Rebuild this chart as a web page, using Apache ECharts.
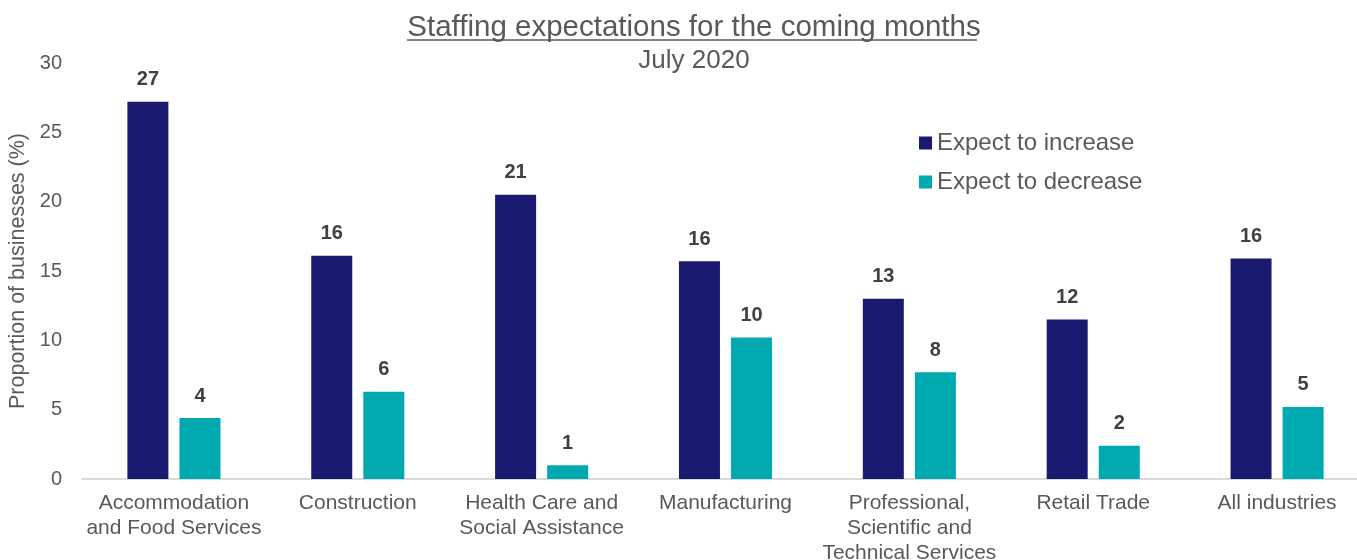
<!DOCTYPE html>
<html>
<head>
<meta charset="utf-8">
<script src="https://cdn.jsdelivr.net/npm/echarts@6/dist/echarts.min.js"></script>
<style>
  html, body { margin: 0; padding: 0; background: #ffffff; }
  #chart { width: 1357px; height: 560px; }
</style>
</head>
<body>
<div id="chart"></div>
<script>
// Industries along the x axis
const categories = [
  'Accommodation\nand Food Services',
  'Construction',
  'Health Care and\nSocial Assistance',
  'Manufacturing',
  'Professional,\nScientific and\nTechnical Services',
  'Retail Trade',
  'All industries'
];

// Share of businesses (%) expecting staffing changes
const expectIncrease = [27.2, 16.1, 20.5, 15.7, 13.0, 11.5, 15.9];
const expectDecrease = [4.4, 6.3, 1.0, 10.2, 7.7, 2.4, 5.2];

const seriesNames = ['Expect to increase', 'Expect to decrease'];
const yTicks = [0, 5, 10, 15, 20, 25, 30];

const chart = echarts.init(document.getElementById('chart'), null, { renderer: 'canvas' });

const textColor = '#595959';
const font = '"Liberation Sans", Arial, sans-serif';

const labelOpt = {
  show: true,
  position: 'top',
  distance: 12,
  color: '#404040',
  fontFamily: font,
  fontWeight: 'bold',
  fontSize: 20,
  formatter: p => Math.round(p.value)
};

chart.setOption({
  animation: false,
  title: [
    {
      text: 'Staffing expectations for the coming months',
      left: 689,
      top: 8,
      textAlign: 'center',
      textStyle: { fontFamily: font, fontSize: 29.5, fontWeight: 'normal', color: textColor }
    },
    {
      text: 'July 2020',
      left: 689,
      top: 43,
      textAlign: 'center',
      textStyle: { fontFamily: font, fontSize: 26, fontWeight: 'normal', color: textColor }
    }
  ],
  graphic: [
    {
      // underline beneath the main title
      type: 'line',
      shape: { x1: 407, y1: 40, x2: 977, y2: 40 },
      style: { stroke: textColor, lineWidth: 1.5 }
    }
  ],
  legend: {
    data: seriesNames,
    orient: 'vertical',
    left: 914,
    top: 126,
    itemWidth: 13,
    itemHeight: 13,
    itemGap: 15,
    icon: 'rect',
    textStyle: { fontFamily: font, fontSize: 24, color: textColor }
  },
  grid: {
    left: 82,
    right: -12,
    top: 63,
    bottom: 81,
    containLabel: false,
    outerBoundsMode: 'none'
  },
  xAxis: {
    type: 'category',
    data: categories,
    axisLine: { show: true, lineStyle: { color: '#d9d9d9', width: 2 } },
    axisTick: { show: false },
    axisLabel: {
      color: textColor,
      fontFamily: font,
      fontSize: 21,
      lineHeight: 25,
      margin: 12,
      interval: 0
    }
  },
  yAxis: {
    type: 'value',
    min: yTicks[0],
    max: yTicks[yTicks.length - 1],
    interval: 5,
    name: 'Proportion of businesses (%)',
    nameLocation: 'middle',
    nameGap: 47,
    nameRotate: 90,
    nameTextStyle: { color: textColor, fontFamily: font, fontSize: 21.5 },
    axisLine: { show: false },
    axisTick: { show: false },
    splitLine: { show: false },
    axisLabel: { color: textColor, fontFamily: font, fontSize: 20, margin: 20 }
  },
  series: [
    {
      name: seriesNames[0],
      type: 'bar',
      data: expectIncrease,
      barWidth: 41,
      barGap: '27%',
      itemStyle: { color: '#191970' },
      label: labelOpt
    },
    {
      name: seriesNames[1],
      type: 'bar',
      data: expectDecrease,
      barWidth: 41,
      barGap: '27%',
      itemStyle: { color: '#00A8B0' },
      label: labelOpt
    }
  ]
});
</script>
</body>
</html>
